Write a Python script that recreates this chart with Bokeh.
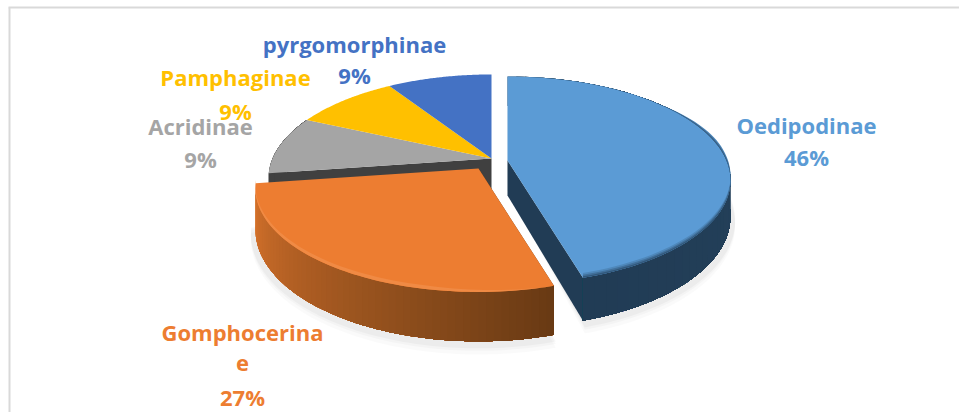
import numpy as np
from bokeh.embed import file_html
from bokeh.resources import INLINE
from bokeh.plotting import figure
from bokeh.models import Range1d
from bokeh.core.properties import value

categories = ["Oedipodinae", "Gomphocerinae", "Acridinae", "Pamphaginae", "pyrgomorphinae"]
values = [45.5, 27.3, 9.1, 9.1, 9.1]
percent_labels = ["46%", "27%", "9%", "9%", "9%"]

top_colors = ["#5B9BD5", "#ED7D31", "#A5A5A5", "#FFC000", "#4472C4"]
wall_light = ["#264560", "#D9742C", "#404040", "#7F6000", "#264478"]
wall_dark = ["#213C55", "#693A14", "#404040", "#7F6000", "#264478"]

# projection of the pie disc
A, B, C = 219.0, 100.0, 0.19
BASE = (491.0, 158.0)
OFFSET = [(16.0, 2.0), (-13.0, 10.0), (0, 0), (0, 0), (0, 0)]
WALL_H = [35.0, 40.0, 35.0, 35.0, 35.0]

W, H = 959, 412
p = figure(width=W, height=H, output_backend="svg", toolbar_location=None,
           x_range=Range1d(0, W), y_range=Range1d(H, 0), min_border=0,
           outline_line_color=None, background_fill_color="white")
p.axis.visible = False
p.grid.visible = False


def proj(t, cx, cy, r=1.0, lift=0.0):
    X, Z = np.sin(t) * r, -np.cos(t) * r
    w = 1 - C * Z
    return cx + A * X / w, cy + (B * Z + lift) / w


def mix(c1, c2, f):
    a = [int(c1[i:i + 2], 16) for i in (1, 3, 5)]
    b = [int(c2[i:i + 2], 16) for i in (1, 3, 5)]
    return "#%02x%02x%02x" % tuple(int(round(u + (v - u) * f)) for u, v in zip(a, b))


cum = np.cumsum([0] + values) / sum(values) * 2 * np.pi
spans = list(zip(cum[:-1], cum[1:]))
centers = [(BASE[0] + o[0], BASE[1] + o[1]) for o in OFFSET]


def poly(xs, ys, color, alpha=1.0):
    p.patch(list(xs), list(ys), fill_color=color, line_color=None, fill_alpha=alpha)


def sector(i, r=1.0):
    t = np.linspace(*spans[i], 80)
    x, y = proj(t, *centers[i], r=r)
    return np.r_[centers[i][0], x], np.r_[centers[i][1], y]


def outer_wall(i, steps=60):
    # painted from each step to the slice's far end, so no seams show between steps
    t0, t1 = spans[i]
    ts = np.linspace(t0, t1, steps + 1)
    cx, cy = centers[i]
    h = WALL_H[i]
    for k in range(steps):
        f = k / (steps - 1)
        col = mix(wall_light[i], wall_dark[i], f)
        seg = ts[:steps - k + 1] if i == 1 else ts[k:]
        xa, ya = proj(seg, cx, cy)
        xb, yb = proj(seg[::-1], cx, cy, lift=h)
        poly(np.r_[xa, xb], np.r_[ya, yb], col)


def rim(i, depth, color_f, edge, t_from):
    # a thin band above the wall, fading away towards the back of the disc
    t = np.linspace(max(t_from, spans[i][0]), spans[i][1], 60)
    cx, cy = centers[i]
    fade = np.clip((t - t[0]) / 0.5, 0, 1)
    xa, ya = proj(t, cx, cy)
    X, Z = np.sin(t), -np.cos(t)
    w = 1 - C * Z
    xb = cx + A * X / w
    yb = cy + (B * Z - depth * fade) / w
    poly(np.r_[xa, xb[::-1]], np.r_[ya, yb[::-1]], mix(top_colors[i], edge, color_f))


def cut_wall(i, t):
    cx, cy = centers[i]
    h = WALL_H[i]
    xa, ya = proj(t, cx, cy)
    xb, yb = proj(t, cx, cy, lift=h)
    poly([cx, xa, xb, cx], [cy, ya, yb, cy + h], wall_dark[i])


# soft ground shadow
for lift, alpha in [(8, 0.02), (5, 0.025), (3, 0.03)]:
    for i in (0, 1):
        t = np.linspace(*spans[i], 80)
        x, y = proj(t, *centers[i], r=1.02, lift=WALL_H[i] + lift)
        poly(np.r_[centers[i][0], x], np.r_[centers[i][1] + 30, y], "#000000", alpha)

# back slices, with the dark cut face of the grey slice under them
cut_wall(2, spans[2][0])
outer_wall(2, steps=12)
for i in (2, 3, 4):
    poly(*sector(i), top_colors[i])

# exploded blue slice
cut_wall(0, spans[0][1])
outer_wall(0)
poly(*sector(0), top_colors[0])
for depth, f in [(4, 0.2), (2.5, 0.45), (1.2, 0.7)]:
    rim(0, depth, f, wall_dark[0], 0.9)

# exploded orange slice
cut_wall(1, spans[1][0])
outer_wall(1)
poly(*sector(1), top_colors[1])
rim(1, 3, 0.25, "#F9B27C", spans[1][0])

# labels
text_x = [806, 806, 242, 242, 242, 200, 200, 235, 235, 354, 354]
text_y = [124.5, 156.5, 331.5, 363, 396, 125.5, 158, 76.5, 110, 43.5, 74]
texts = [categories[0], percent_labels[0],
         categories[1][:-1], categories[1][-1], percent_labels[1],
         categories[2], percent_labels[2],
         categories[3], percent_labels[3],
         categories[4], percent_labels[4]]
owners = [0, 0, 1, 1, 1, 2, 2, 3, 3, 4, 4]
p.text(text_x, text_y, text=texts, text_color=[top_colors[k] for k in owners],
       text_font=value("Open Sans"), text_font_size="22px", text_font_style="bold",
       text_align="center", text_baseline="middle")

# chart frame
p.line([9, 9], [7, H], line_color="#D9D9D9", line_width=2)
p.line([8, W], [7, 7], line_color="#D9D9D9", line_width=2)

open("out.html", "w").write(file_html(p, INLINE))
